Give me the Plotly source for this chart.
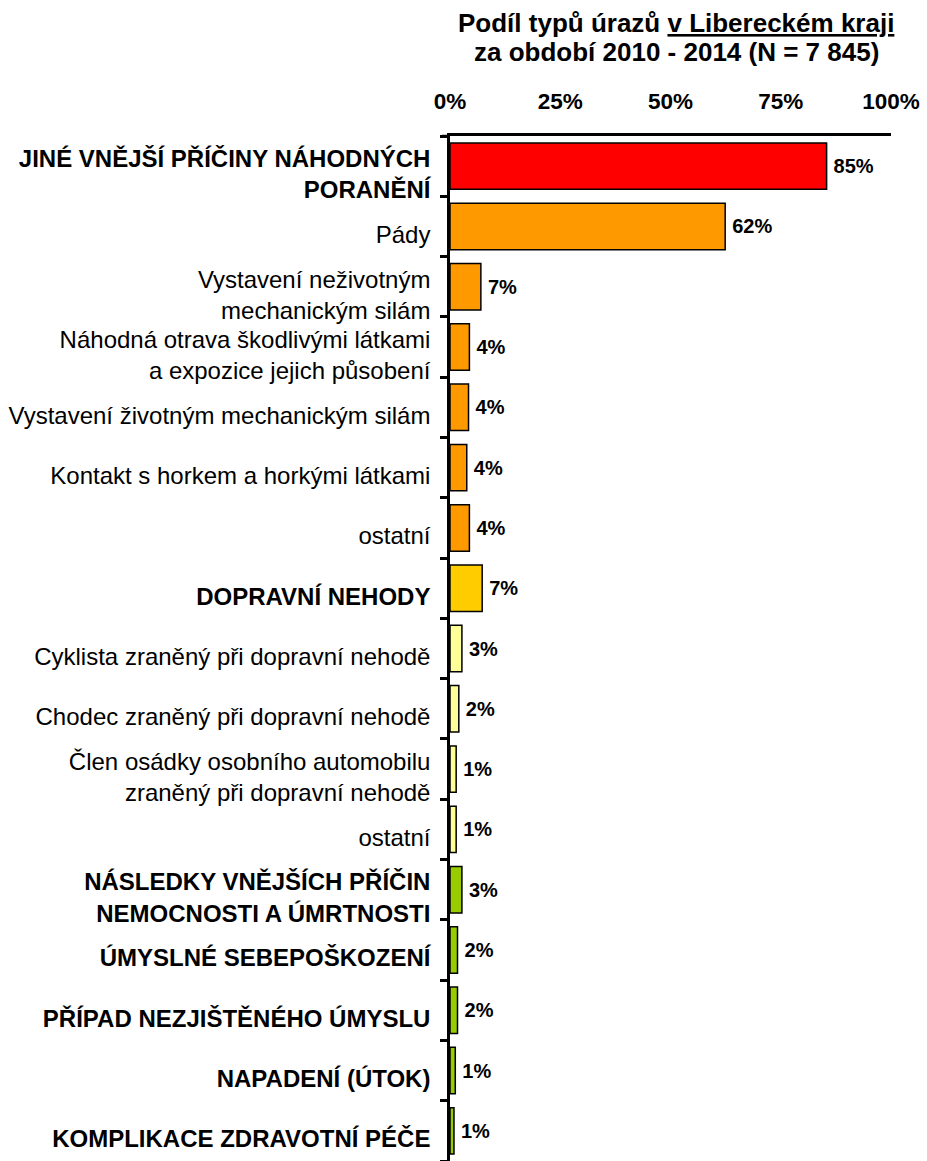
import plotly.graph_objects as go

categories = [
    "JINÉ VNĚJŠÍ PŘÍČINY NÁHODNÝCH<br>PORANĚNÍ",
    "Pády",
    "Vystavení neživotným<br>mechanickým silám",
    "Náhodná otrava škodlivými látkami<br>a expozice jejich působení",
    "Vystavení životným mechanickým silám",
    "Kontakt s horkem a horkými látkami",
    "ostatní",
    "DOPRAVNÍ NEHODY",
    "Cyklista zraněný při dopravní nehodě",
    "Chodec zraněný při dopravní nehodě",
    "Člen osádky osobního automobilu<br>zraněný při dopravní nehodě",
    "ostatní",
    "NÁSLEDKY VNĚJŠÍCH PŘÍČIN<br>NEMOCNOSTI A ÚMRTNOSTI",
    "ÚMYSLNÉ SEBEPOŠKOZENÍ",
    "PŘÍPAD NEZJIŠTĚNÉHO ÚMYSLU",
    "NAPADENÍ (ÚTOK)",
    "KOMPLIKACE ZDRAVOTNÍ PÉČE",
]
is_group = [True, False, False, False, False, False, False, True, False, False,
            False, False, True, True, True, True, True]
values = [85.4, 62.4, 7.0, 4.4, 4.2, 3.8, 4.4, 7.3, 2.7, 2.0, 1.4, 1.4, 2.7, 1.7, 1.7, 1.2, 0.9]
colors = ["#FF0000"] + ["#FF9900"] * 6 + ["#FFCC00"] + ["#FFFF99"] * 4 + ["#99CC00"] * 5
x_ticks = [0, 25, 50, 75, 100]
title_lines = ["Podíl typů úrazů <u>v Libereckém kraji</u>",
               "za období 2010 - 2014 (N = 7 845)"]

FONT = "Liberation Sans, Arial, sans-serif"
ypos = list(range(len(categories)))
ticktext = [f"<b>{c}</b>" if g else c for c, g in zip(categories, is_group)]

fig = go.Figure(go.Bar(
    x=values, y=ypos, orientation="h",
    marker=dict(color=colors, line=dict(color="black", width=1.5)),
    width=0.77,
    texttemplate="<b>\u2009%{x:.0f}%</b>", textposition="outside",
    textfont=dict(family=FONT, size=20, color="black"),
    constraintext="none", cliponaxis=False, hoverinfo="skip",
))

title_ys = [23, 52]
fig.update_layout(
    width=927, height=1161,
    margin=dict(l=450, r=36, t=136, b=0),
    plot_bgcolor="white", paper_bgcolor="white",
    font=dict(family=FONT, color="black"),
    showlegend=False,
    annotations=[dict(
        text=f"<b>{line}</b>",
        xref="paper", yref="paper", x=(676 - 450) / 441, y=1 + (136 - py) / 1025,
        xanchor="center", yanchor="middle", showarrow=False,
        font=dict(family=FONT, size=26, color="black"),
    ) for line, py in zip(title_lines, title_ys)],
    xaxis=dict(
        side="top", range=[0, 100], tickvals=x_ticks,
        ticktext=[f"<b>{v}%</b>" for v in x_ticks],
        tickfont=dict(family=FONT, size=22.5, color="black"),
        showgrid=False, zeroline=False,
        showline=True, linecolor="black", linewidth=2.5,
        ticks="", ticklabelstandoff=15,
    ),
    yaxis=dict(
        range=[16.5, -0.5], tickvals=ypos, ticktext=ticktext,
        tickfont=dict(family=FONT, size=24, color="black"),
        showgrid=False, zeroline=False,
        showline=True, linecolor="black", linewidth=2.5,
        ticks="", ticklabelstandoff=12, ticklabelshift=-8,
        minor=dict(tick0=0.5, dtick=1, ticks="outside", ticklen=7,
                   tickwidth=2.5, tickcolor="black", showgrid=False),
    ),
    shapes=[dict(type="line", xref="paper", yref="paper",
                 x0=-8 / 441, x1=0, y0=1, y1=1,
                 line=dict(color="black", width=2.5))],
)

fig.write_html("out.html", config={"displayModeBar": False},
               post_script="document.body.style.margin='0';")
